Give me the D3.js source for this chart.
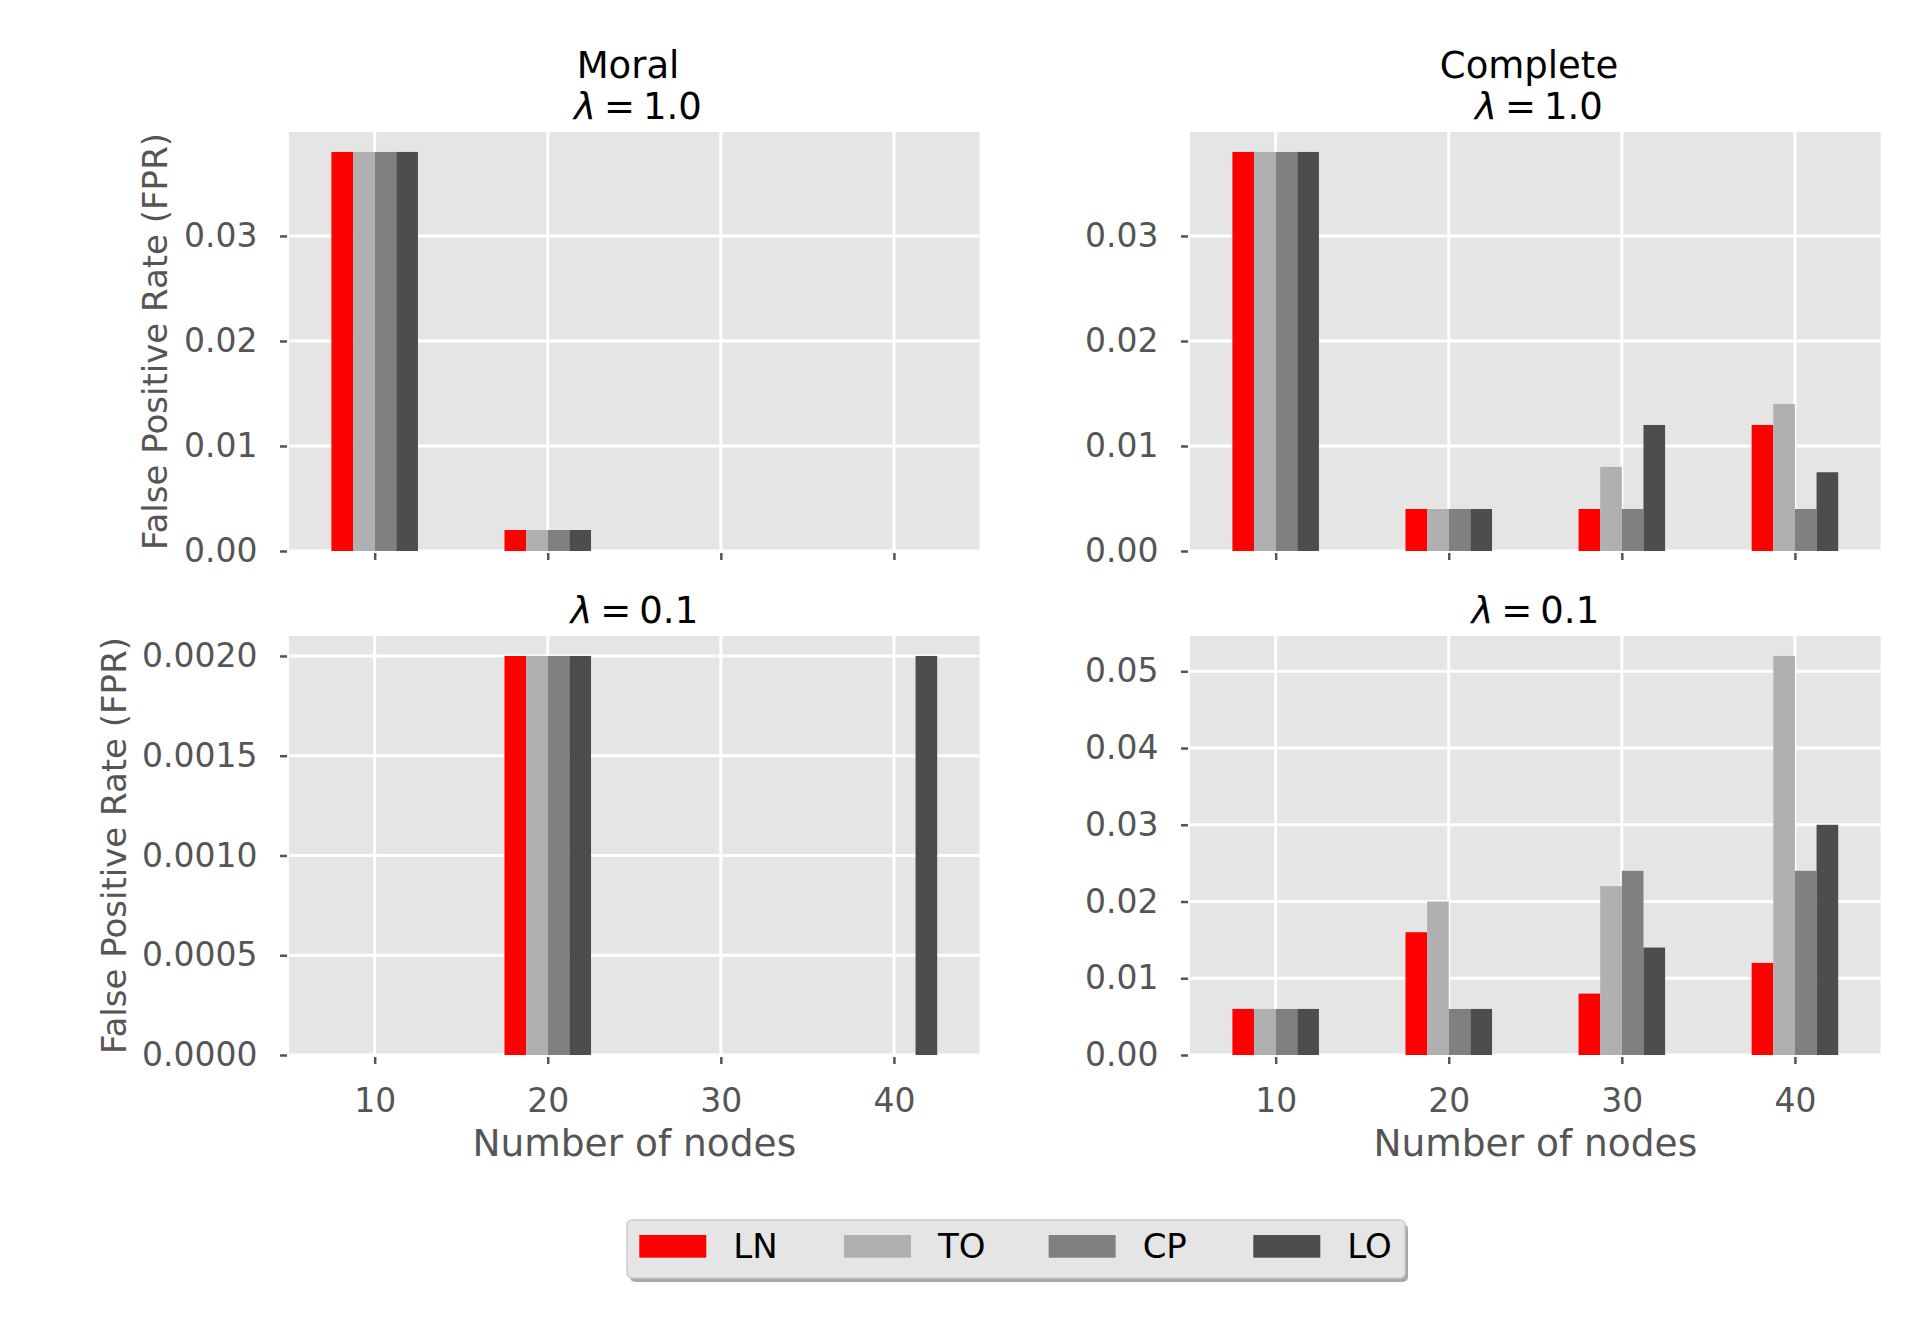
<!DOCTYPE html>
<html>
<head>
<meta charset="utf-8">
<script src="https://cdn.jsdelivr.net/npm/d3@7"></script>
<style>
  body { margin: 0; background: #fff; }
  svg { display: block; font-family: "DejaVu Sans", sans-serif; }
  .tick text { fill: #555; }
  .tick line { stroke: #555; stroke-width: 2.5; }
</style>
</head>
<body>
<div id="chart"></div>
<script>
// categories (number of nodes) and series
const nodes = [10, 20, 30, 40];
const methods = ["LN", "TO", "CP", "LO"];
const colors = ["#ff0000", "#b0b0b0", "#808080", "#4d4d4d"];

// FPR values per method, one table per panel (order: 10, 20, 30, 40)
const moral_l1 = {
  LN: [0.038, 0.002, 0, 0],
  TO: [0.038, 0.002, 0, 0],
  CP: [0.038, 0.002, 0, 0],
  LO: [0.038, 0.002, 0, 0]
};
const complete_l1 = {
  LN: [0.038, 0.004, 0.004, 0.012],
  TO: [0.038, 0.004, 0.008, 0.014],
  CP: [0.038, 0.004, 0.004, 0.004],
  LO: [0.038, 0.004, 0.012, 0.0075]
};
const moral_l01 = {
  LN: [0, 0.002, 0, 0],
  TO: [0, 0.002, 0, 0],
  CP: [0, 0.002, 0, 0],
  LO: [0, 0.002, 0, 0.002]
};
const complete_l01 = {
  LN: [0.006, 0.016, 0.008, 0.012],
  TO: [0.006, 0.020, 0.022, 0.052],
  CP: [0.006, 0.006, 0.024, 0.024],
  LO: [0.006, 0.006, 0.014, 0.030]
};

const ticksTop = [0, 0.01, 0.02, 0.03];
const ticksMoral01 = [0, 0.0005, 0.001, 0.0015, 0.002];
const ticksComplete01 = [0, 0.01, 0.02, 0.03, 0.04, 0.05];

const width = 1920, height = 1320;
const barW = 1.25;

const svg = d3.select("#chart").append("svg")
  .attr("width", width).attr("height", height);

const panels = [
  { data: moral_l1, left: 289, top: 132, ymax: 0.0399, ticks: ticksTop, fmt: ".2f", xlabels: false, ylabel: 155 },
  { data: complete_l1, left: 1190, top: 132, ymax: 0.0399, ticks: ticksTop, fmt: ".2f", xlabels: false, ylabel: null },
  { data: moral_l01, left: 289, top: 636, ymax: 0.0021, ticks: ticksMoral01, fmt: ".4f", xlabels: true, ylabel: 114 },
  { data: complete_l01, left: 1190, top: 636, ymax: 0.0546, ticks: ticksComplete01, fmt: ".2f", xlabels: true, ylabel: null }
];
const pw = 690.6, ph = 419;

panels.forEach(p => {
  let x = d3.scaleLinear().domain([5.05, 44.95]).range([p.left, p.left + pw]);
  let y = d3.scaleLinear().domain([0, p.ymax]).range([p.top + ph, p.top]);
  let g = svg.append("g");

  g.append("rect")
    .attr("x", p.left).attr("y", p.top)
    .attr("width", pw).attr("height", ph)
    .attr("fill", "#e5e5e5");

  // grid
  g.selectAll(".vgrid").data(nodes).enter().append("line")
    .attr("x1", d => x(d)).attr("x2", d => x(d))
    .attr("y1", p.top).attr("y2", p.top + ph)
    .attr("stroke", "#fff").attr("stroke-width", 3);
  g.selectAll(".hgrid").data(p.ticks).enter().append("line")
    .attr("x1", p.left).attr("x2", p.left + pw)
    .attr("y1", d => y(d)).attr("y2", d => y(d))
    .attr("stroke", "#fff").attr("stroke-width", 3);

  // bars
  methods.forEach((m, i) => {
    let off = (i - 1.5) * barW;
    g.selectAll(".bar" + m).data(p.data[m]).enter().append("rect")
      .attr("x", (d, j) => x(nodes[j] + off - barW / 2))
      .attr("width", x(barW) - x(0))
      .attr("y", d => y(d))
      .attr("height", d => y(0) - y(d))
      .attr("fill", colors[i]);
  });

  // axes
  let yAxis = d3.axisLeft(y).tickValues(p.ticks).tickFormat(d3.format(p.fmt))
    .tickSize(7).tickPadding(22.6);
  g.append("g")
    .attr("transform", `translate(${p.left - 2},0)`)
    .call(yAxis)
    .attr("font-family", "DejaVu Sans")
    .call(a => a.select(".domain").remove())
    .selectAll("text").style("font-size", "33px");

  let xAxis = d3.axisBottom(x).tickValues(nodes)
    .tickFormat(p.xlabels ? d3.format("d") : "")
    .tickSize(7).tickPadding(24.8);
  g.append("g")
    .attr("transform", `translate(0,${p.top + ph + 2})`)
    .call(xAxis)
    .attr("font-family", "DejaVu Sans")
    .call(a => a.select(".domain").remove())
    .selectAll("text").style("font-size", "33px");

  if (p.ylabel !== null) {
    let cy = p.top + ph / 2;
    svg.append("text")
      .attr("transform", `translate(${p.ylabel},${cy}) rotate(-90)`)
      .attr("text-anchor", "middle").attr("dominant-baseline", "central")
      .attr("fill", "#555").style("font-size", "34px")
      .text("False Positive Rate (FPR)");
  }
  if (p.xlabels) {
    svg.append("text")
      .attr("x", p.left + pw / 2).attr("y", 1156)
      .attr("text-anchor", "middle")
      .attr("fill", "#555").style("font-size", "37.5px")
      .text("Number of nodes");
  }
});

// titles
function lambdaTitle(cx, by, val) {
  let t = svg.append("text")
    .attr("x", cx).attr("y", by)
    .attr("text-anchor", "middle")
    .style("font-size", "37px").attr("fill", "#000");
  t.append("tspan").style("font-style", "italic").text("λ");
  t.append("tspan").attr("dx", 8).text("=");
  t.append("tspan").attr("dx", 8).text(val);
}
svg.append("text").attr("x", 628).attr("y", 78).attr("text-anchor", "middle")
  .style("font-size", "37px").text("Moral");
lambdaTitle(638, 119, "1.0");
svg.append("text").attr("x", 1529).attr("y", 78).attr("text-anchor", "middle")
  .style("font-size", "37px").text("Complete");
lambdaTitle(1539, 119, "1.0");
lambdaTitle(289 + pw / 2, 623, "0.1");
lambdaTitle(1190 + pw / 2, 623, "0.1");

// legend
let lg = svg.append("g");
lg.append("rect").attr("x", 630).attr("y", 1224).attr("width", 778).attr("height", 58)
  .attr("rx", 5).attr("fill", "#a8a8a8");
lg.append("rect").attr("x", 627).attr("y", 1220).attr("width", 778).attr("height", 58)
  .attr("rx", 5).attr("fill", "#e5e5e5").attr("stroke", "#cccccc").attr("stroke-width", 1.5);
let legX = d3.scalePoint().domain(methods).range([639.3, 1253.3]);
lg.selectAll(".lp").data(methods).enter().append("rect")
  .attr("x", d => legX(d)).attr("y", 1235)
  .attr("width", 67).attr("height", 22.7)
  .attr("fill", (d, i) => colors[i]);
lg.selectAll(".lt").data(methods).enter().append("text")
  .attr("x", d => legX(d) + 94).attr("y", 1258)
  .style("font-size", "34px").attr("fill", "#000")
  .text(d => d);
</script>
</body>
</html>
